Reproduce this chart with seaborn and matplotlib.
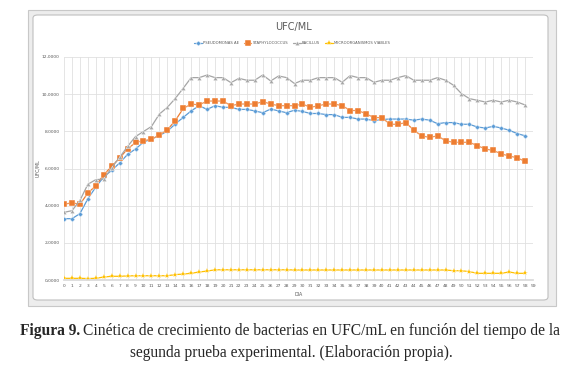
#!/usr/bin/env python3
"""Growth kinetics of bacteria (UFC/mL) over time, second experimental run."""

import matplotlib
import matplotlib.pyplot as plt
import pandas as pd
import seaborn as sns
from matplotlib.patches import FancyBboxPatch, Rectangle

matplotlib.use("Agg")

days = list(range(59))
pseudomonas = [
    3.3, 3.3, 3.57, 4.37, 5.0, 5.55, 5.9, 6.3, 6.76, 7.05,
    7.42, 7.58, 7.78, 8.0, 8.4, 8.75, 9.1, 9.38, 9.18, 9.38,
    9.29, 9.29, 9.18, 9.18, 9.1, 9.0, 9.2, 9.1, 9.0, 9.14,
    9.07, 8.96, 8.96, 8.9, 8.9, 8.75, 8.75, 8.66, 8.66, 8.57,
    8.64, 8.66, 8.66, 8.66, 8.6, 8.66, 8.6, 8.41, 8.47, 8.47,
    8.38, 8.38, 8.23, 8.18, 8.27, 8.18, 8.06, 7.88, 7.76,
]
staphylococcus = [
    4.07, 4.16, 4.07, 4.68, 5.07, 5.67, 6.11, 6.57, 7.05, 7.4,
    7.5, 7.57, 7.8, 8.08, 8.58, 9.23, 9.47, 9.42, 9.63, 9.63,
    9.63, 9.38, 9.47, 9.47, 9.47, 9.6, 9.47, 9.38, 9.38, 9.38,
    9.47, 9.29, 9.38, 9.47, 9.47, 9.38, 9.12, 9.12, 8.94, 8.74,
    8.74, 8.38, 8.38, 8.47, 8.06, 7.76, 7.67, 7.76, 7.49, 7.41,
    7.41, 7.41, 7.23, 7.05, 6.97, 6.79, 6.67, 6.58, 6.38,
]
bacillus = [
    3.64, 3.73, 4.28, 5.15, 5.4, 5.43, 6.05, 6.6, 7.19, 7.72,
    7.99, 8.26, 8.93, 9.29, 9.77, 10.32, 10.89, 10.89, 11.03, 10.89,
    10.89, 10.62, 10.85, 10.75, 10.75, 11.03, 10.71, 10.98, 10.89, 10.57,
    10.75, 10.75, 10.89, 10.89, 10.89, 10.64, 11.0, 10.89, 10.89, 10.64,
    10.75, 10.75, 10.89, 11.0, 10.75, 10.75, 10.75, 10.89, 10.75, 10.48,
    10.03, 9.76, 9.67, 9.58, 9.67, 9.58, 9.67, 9.58, 9.42,
]
viables = [
    0.09, 0.09, 0.09, 0.08, 0.09, 0.16, 0.2, 0.2, 0.22, 0.23,
    0.23, 0.23, 0.23, 0.23, 0.29, 0.32, 0.36, 0.43, 0.48, 0.55,
    0.55, 0.55, 0.55, 0.55, 0.55, 0.55, 0.55, 0.55, 0.55, 0.54,
    0.54, 0.54, 0.54, 0.54, 0.54, 0.54, 0.54, 0.54, 0.54, 0.54,
    0.54, 0.54, 0.54, 0.54, 0.54, 0.54, 0.54, 0.54, 0.54, 0.5,
    0.5, 0.45, 0.36, 0.36, 0.36, 0.36, 0.43, 0.36, 0.36,
]
labels = ["PSEUDOMONAS AE", "STAPHYLOCOCCUS", "BACILLUS", "MICROORGANISMOS VIABLES"]
x_ticks = list(range(60))
y_ticks = [0, 2, 4, 6, 8, 10, 12]

colors = ["#5B9BD5", "#ED7D31", "#A5A5A5", "#FFC000"]
markers = ["D", "s", "^", "*"]
marker_sizes = [2.6, 3.9, 3.2, 4.0]

frame = pd.concat(
    [
        pd.DataFrame({"dia": days, "ufc": values, "serie": label})
        for label, values in zip(labels, [pseudomonas, staphylococcus, bacillus, viables])
    ],
    ignore_index=True,
)

sns.set_theme(style="white")
plt.rcParams["font.family"] = ["DejaVu Sans"]

fig = plt.figure(figsize=(5.82, 3.9), dpi=100)
W, H = 582, 390

# excel window frame and chart area
fig.patches.append(Rectangle((28 / W, 1 - 306 / H), 528 / W, 296 / H, transform=fig.transFigure,
                             facecolor="#EDEDED", edgecolor="#C8C8C8", linewidth=0.8, zorder=0))
fig.patches.append(FancyBboxPatch((33 / W, 1 - 300 / H), 515 / W, 285 / H,
                                  boxstyle="round,pad=0,rounding_size=0.008",
                                  transform=fig.transFigure, facecolor="white",
                                  edgecolor="#BFBFBF", linewidth=0.8, zorder=0.5))

ax = fig.add_axes([64 / W, 1 - 280 / H, (533 - 64) / W, (280 - 57) / H])
ax.set_zorder(2)
ax.set_facecolor("none")
for label, color, marker, size in zip(labels, colors, markers, marker_sizes):
    sns.lineplot(
        data=frame[frame.serie == label], x="dia", y="ufc", color=color, marker=marker,
        markersize=size, markeredgewidth=0.3 if marker != "*" else 0.2, linewidth=0.9,
        label=label, ax=ax, legend=False,
    )

ax.set_xlim(0, 59)
ax.set_ylim(0, 12)
ax.set_xticks(x_ticks)
ax.set_xticklabels([str(t) for t in x_ticks], fontsize=3.2, color="#595959")
ax.set_yticks(y_ticks)
ax.set_yticklabels([f"{t:.4f}".replace(".", ",") for t in y_ticks], fontsize=3.2, color="#595959")
ax.tick_params(length=0, pad=3)
ax.grid(True, color="#E0E0E0", linewidth=0.6)
for side in ["top", "right", "left"]:
    ax.spines[side].set_visible(False)
ax.spines["bottom"].set_color("#D9D9D9")
ax.set_xlabel("DIA", fontsize=3.4, color="#595959", labelpad=3)
ax.set_ylabel("UFC/ML", fontsize=3.4, color="#595959", labelpad=1)

handles, _ = ax.get_legend_handles_labels()
leg = fig.legend(handles, labels, loc="center", bbox_to_anchor=(292 / W, 1 - 43 / H), ncol=4,
                 frameon=False, fontsize=2.7, handlelength=2.0, columnspacing=1.4,
                 handletextpad=0.3, labelcolor="#595959")
leg.set_zorder(3)
fig.text(293 / W, 1 - 27 / H, "UFC/ML", ha="center", va="center", fontsize=7, color="#595959",
         zorder=3)

# caption
serif = ["Liberation Serif", "DejaVu Serif"]
bold = fig.text(20 / W, 1 - 331 / H, "Figura 9.", family=serif, fontsize=11.2,
                fontweight="bold", ha="left", va="center")
renderer = fig.canvas.get_renderer()
box = bold.get_window_extent(renderer)
fig.text((box.x1 + 3) / W, 1 - 331 / H,
         "Cinética de crecimiento de bacterias en UFC/mL en función del tiempo de la",
         family=serif, fontsize=11.2, ha="left", va="center")
fig.text(291 / W, 1 - 353 / H, "segunda prueba experimental. (Elaboración propia).",
         family=serif, fontsize=11.2, ha="center", va="center")

fig.savefig("out.png", dpi=100)
plt.close(fig)
